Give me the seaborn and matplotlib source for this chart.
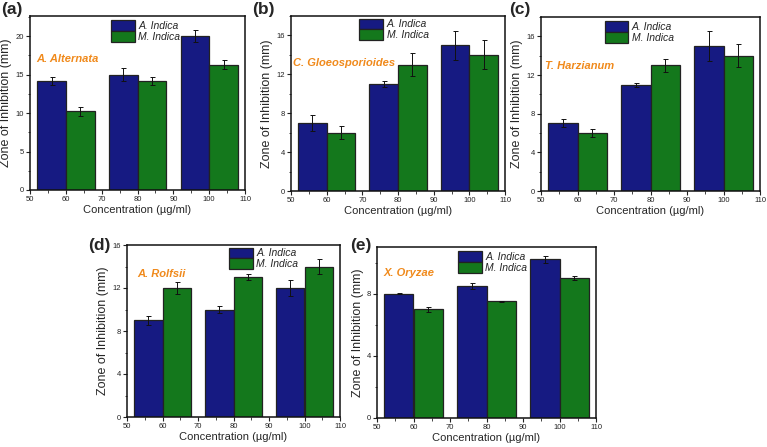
import matplotlib
matplotlib.use("Agg")
import matplotlib.pyplot as plt
from matplotlib.ticker import MultipleLocator
import seaborn as sns
import pandas as pd

sns.set_theme(style="ticks")
plt.rcParams['font.family'] = ['Liberation Sans', 'DejaVu Sans']

concentrations = [60, 80, 100]
series_names = ["A. Indica", "M. Indica"]

panel_letters = ["(a)", "(b)", "(c)", "(d)", "(e)"]
pathogens = ["A. Alternata", "C. Gloeosporioides", "T. Harzianum", "A. Rolfsii", "X. Oryzae"]

a_indica_a = [14.2, 15.0, 20.0]
m_indica_a = [10.2, 14.2, 16.3]
a_err_a = [0.5, 0.8, 0.8]
m_err_a = [0.6, 0.5, 0.6]

a_indica_b = [7.0, 11.0, 15.0]
m_indica_b = [6.0, 13.0, 14.0]
a_err_b = [0.8, 0.3, 1.5]
m_err_b = [0.7, 1.2, 1.5]

a_indica_c = [7.0, 11.0, 15.0]
m_indica_c = [6.0, 13.0, 14.0]
a_err_c = [0.4, 0.2, 1.6]
m_err_c = [0.4, 0.7, 1.2]

a_indica_d = [9.0, 10.0, 12.0]
m_indica_d = [12.0, 13.0, 14.0]
a_err_d = [0.4, 0.3, 0.7]
m_err_d = [0.6, 0.3, 0.7]

a_indica_e = [8.0, 8.5, 10.2]
m_indica_e = [7.0, 7.5, 9.0]
a_err_e = [0.05, 0.2, 0.25]
m_err_e = [0.15, 0.05, 0.15]

panels = [
    (a_indica_a, m_indica_a, a_err_a, m_err_a),
    (a_indica_b, m_indica_b, a_err_b, m_err_b),
    (a_indica_c, m_indica_c, a_err_c, m_err_c),
    (a_indica_d, m_indica_d, a_err_d, m_err_d),
    (a_indica_e, m_indica_e, a_err_e, m_err_e),
]

W, H = 767, 447
# layout in pixels: left, top, right, bottom
pix = [
    (30, 16, 245, 190),
    (291, 16, 505, 191),
    (541, 17, 760, 191),
    (127, 245, 340, 417),
    (377, 247, 596, 418),
]
label_pix = [(1, 2), (252, 2), (509, 2), (88, 238), (350, 238)]
ylims = [22.6, 18.0, 18.0, 16.0, 11.0]
ymajor = [5, 4, 4, 4, 4]
text_pos = [(0.03, 0.75), (0.01, 0.73), (0.02, 0.72), (0.05, 0.83), (0.03, 0.85)]
legend_pos = [(0.377, 0.975), (0.32, 0.985), (0.29, 0.975), (0.48, 0.985), (0.37, 0.975)]

palette = {"A. Indica": "#161a82", "M. Indica": "#14781c"}

fig = plt.figure(figsize=(W / 100, H / 100), dpi=100)

for i, (av, mv, ae, me) in enumerate(panels):
    l, t, r, b = pix[i]
    ax = fig.add_axes([l / W, 1 - b / H, (r - l) / W, (b - t) / H])
    df = pd.DataFrame({
        "Concentration": concentrations * 2,
        "Value": list(av) + list(mv),
        "Series": [series_names[0]] * 3 + [series_names[1]] * 3,
    })
    sns.barplot(data=df, x="Concentration", y="Value", hue="Series",
                hue_order=series_names, palette=palette, native_scale=True,
                width=0.8, errorbar=None, edgecolor="#222222", linewidth=0.9,
                saturation=1, ax=ax)
    errs = list(ae) + list(me)
    vals = list(av) + list(mv)
    bars = [p for p in ax.patches if p.get_height() > 0][:6]
    for p, v, e in zip(bars, vals, errs):
        cx = p.get_x() + p.get_width() / 2
        ax.errorbar(cx, v, yerr=e, color="#111111", capsize=1.8, elinewidth=0.7,
                    capthick=0.7, fmt="none", zorder=5)
    ax.set_xlim(50, 110)
    ax.set_ylim(0, ylims[i])
    ax.xaxis.set_major_locator(MultipleLocator(10))
    ax.xaxis.set_minor_locator(MultipleLocator(5))
    ax.yaxis.set_major_locator(MultipleLocator(ymajor[i]))
    ax.yaxis.set_minor_locator(MultipleLocator(ymajor[i] / 2))
    ax.tick_params(axis="both", which="major", labelsize=5.5, length=3, width=0.8,
                   colors="#222222", pad=1.5)
    ax.tick_params(axis="both", which="minor", length=1.8, width=0.6)
    for s in ax.spines.values():
        s.set_visible(True)
        s.set_linewidth(1.1)
        s.set_color("#111111")
    ax.set_xlabel("Concentration (\u00b5g/ml)", fontsize=8, labelpad=1)
    ax.set_ylabel("Zone of Inhibition (mm)", fontsize=9, labelpad=2)
    ax.text(text_pos[i][0], text_pos[i][1], pathogens[i], transform=ax.transAxes,
            color="#f08a1c", fontsize=8, fontweight="bold", fontstyle="italic",
            ha="left", va="center")
    fig.text(label_pix[i][0] / W, 1 - label_pix[i][1] / H, panel_letters[i],
             fontsize=12.5, fontweight="bold", ha="left", va="top")
    ax.legend(loc="upper left", bbox_to_anchor=legend_pos[i], frameon=False,
              borderaxespad=0, borderpad=0, handlelength=2.3, handleheight=1.2,
              labelspacing=0.0, handletextpad=0.3, prop={"size": 7.5, "style": "italic"})
    ax.grid(False)

fig.savefig("out.png", dpi=100)
